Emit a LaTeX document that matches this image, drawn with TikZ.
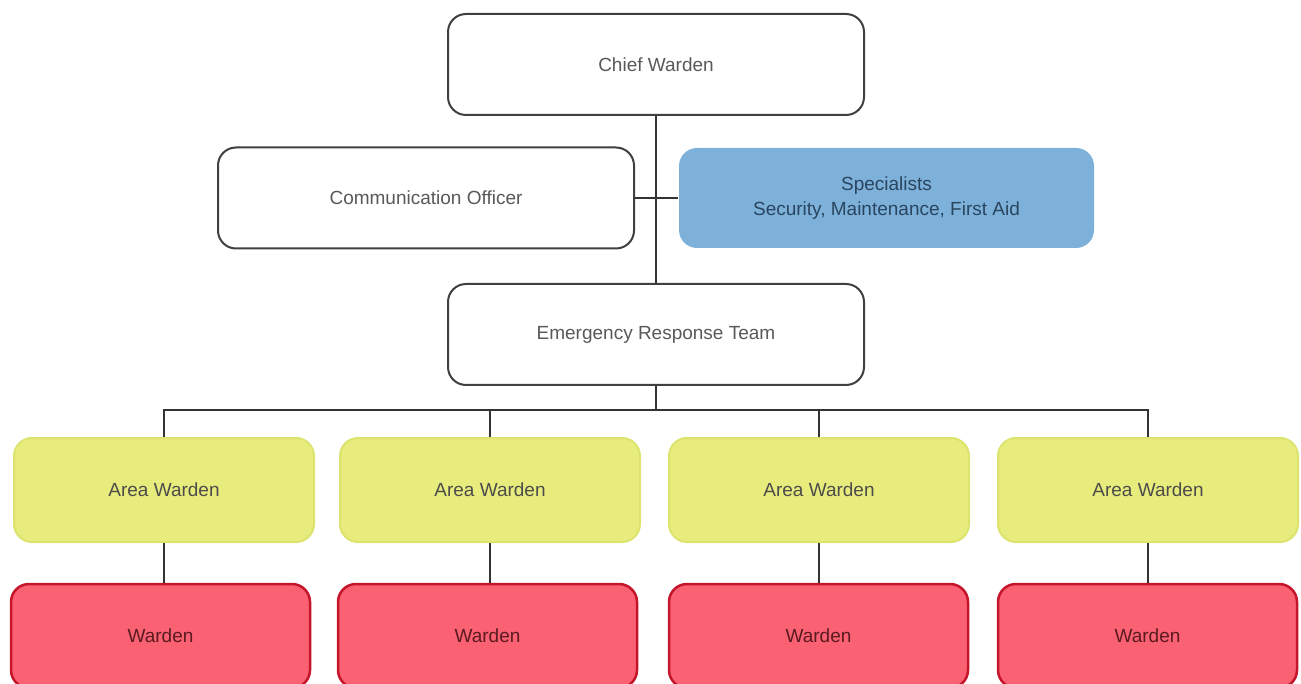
\documentclass[tikz,border=0pt]{standalone}
\usepackage{fontspec}
\setmainfont{Liberation Sans}
\begin{document}
\begin{tikzpicture}[x=1pt,y=-1pt,
  box/.style={rounded corners=18pt, line width=2pt, draw=black!75, fill=white, text=black!65,
    minimum width=416pt, minimum height=101pt, align=center, inner sep=0pt,
    font=\fontsize{19}{25}\selectfont},
  spec/.style={box, draw=none, fill=spblue, text=sptext, minimum width=415pt, minimum height=100pt},
  area/.style={box, draw=awborder, fill=awfill, text=black!70, minimum width=300pt, minimum height=104pt},
  ward/.style={box, draw=wborder, fill=wfill, text=wtext, line width=2.5pt, minimum width=299pt, minimum height=104pt},
  link/.style={line width=2pt, draw=black!80}]
\definecolor{spblue}{HTML}{7DB1DA}
\definecolor{sptext}{HTML}{2A4560}
\definecolor{awfill}{HTML}{E8EC7C}
\definecolor{awborder}{HTML}{DCE46E}
\definecolor{wfill}{HTML}{FA6172}
\definecolor{wborder}{HTML}{C5152B}
\definecolor{wtext}{HTML}{5A1A20}
\useasboundingbox (0,0) rectangle (1301,684);
\node[box] (chief) at (656,64.5) {Chief Warden};
\node[box] (comm) at (426,198) {Communication Officer};
\node[spec] (spec) at (886.5,198) {Specialists\\Security, Maintenance, First Aid};
\node[box] (ert) at (656,334.5) {Emergency Response Team};
\foreach \i/\x/\wx in {1/164/160.5, 2/490/487.5, 3/819/818.5, 4/1148/1147.5}{
  \node[area] (a\i) at (\x,490) {Area Warden};
  \node[ward] (w\i) at (\wx,636) {Warden};
}
\coordinate (bus) at (656,410);
\draw[link] (chief.south) -- (ert.north);
\draw[link] (comm.east) -- (spec.west);
\draw[link] (ert.south) -- (bus);
\draw[link] (a1.north) |- (bus) -| (a4.north);
\draw[link] (a2.north) -- (a2.north |- bus);
\draw[link] (a3.north) -- (a3.north |- bus);
\foreach \i in {1,2,3,4}{
  \draw[link] (a\i.south) -- (a\i.south |- w\i.north);
}
\end{tikzpicture}
\end{document}
